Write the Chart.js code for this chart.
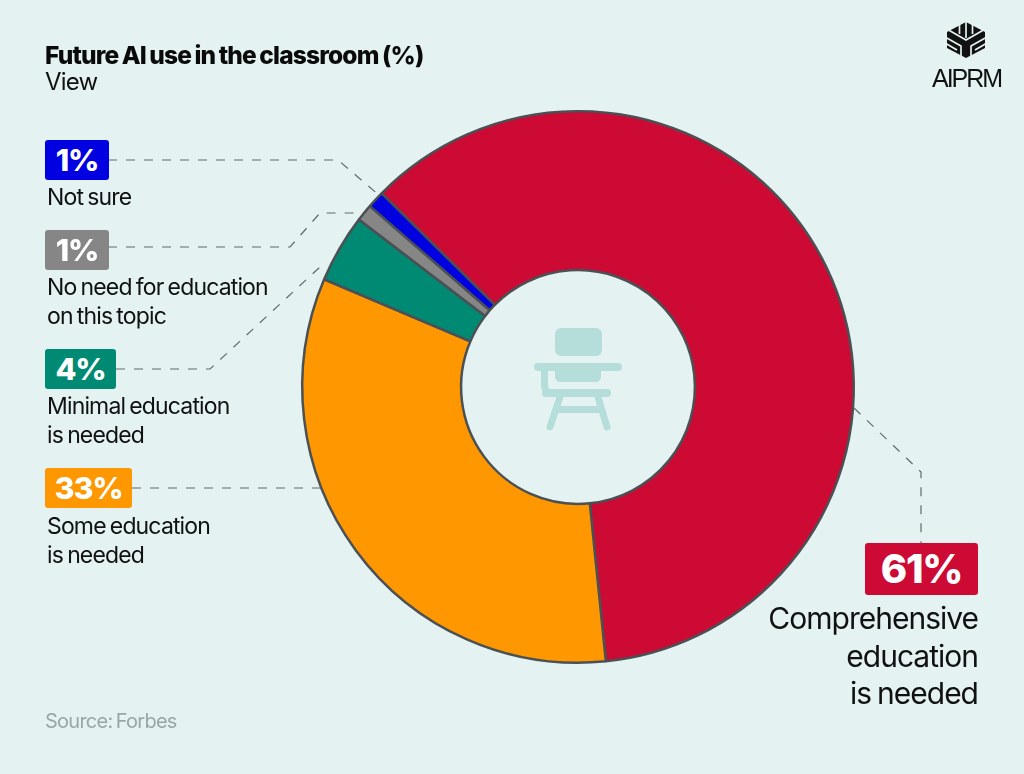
<!DOCTYPE html>
<html><head><meta charset="utf-8">
<script src="https://cdn.jsdelivr.net/npm/chart.js@4"></script>
<style>
html,body{margin:0;padding:0;background:#e4f3f1;}
#wrap{position:relative;width:1024px;height:774px;overflow:hidden;background:#e4f3f1;font-family:Inter,"Liberation Sans",sans-serif;color:#111;}
#c{position:absolute;left:0;top:0;width:1024px;height:774px;}
svg{position:absolute;left:0;top:0;}
.t{position:absolute;white-space:pre;}
.title{left:45px;top:40px;font-size:24.5px;font-weight:800;letter-spacing:-.82px;word-spacing:-1.2px;line-height:30px;color:#0a0a0a;}
.sub{left:45px;top:67px;font-size:24px;letter-spacing:-.8px;line-height:30px;}
.source{left:45px;top:708px;font-size:20px;letter-spacing:-.75px;word-spacing:-1.5px;color:#9aa6a6;line-height:26px;}
.badge{position:absolute;border-radius:3px;color:#fff;font-weight:800;display:flex;align-items:center;justify-content:center;font-size:30.5px;letter-spacing:-1.2px;height:40px;left:45px;padding-bottom:2px;box-sizing:border-box;}
.lab{left:47px;font-size:23px;letter-spacing:-.85px;word-spacing:-1.5px;line-height:28.5px;}
.big{right:46px;text-align:right;top:600px;font-size:30px;letter-spacing:-1px;word-spacing:-1.5px;line-height:37.5px;}
.logo{left:932px;top:63px;font-size:25px;letter-spacing:-2px;line-height:30px;font-family:"Liberation Sans",sans-serif;}
</style></head><body>
<div id="wrap">
<canvas id="c" width="1024" height="774"></canvas>
<svg width="1024" height="774" fill="none">
 <g stroke="#5f6b6b" stroke-width="1.2" stroke-dasharray="9 9">
  <path d="M108 160H338L380 196"/>
  <path d="M108 247H290L320 213H363"/>
  <path d="M116 369H210L320 267H326"/>
  <path d="M132 488H322"/>
  <path d="M854 408L921 472V545"/>
 </g>
 <g fill="#b5dedb" stroke="none">
  <rect x="555" y="328" width="47" height="28" rx="6"/>
  <rect x="534" y="363" width="88" height="8" rx="4"/>
  <path d="M555 371H601V376Q601 382 595 382H561Q555 382 555 376Z"/>
  <rect x="542" y="389" width="69" height="8" rx="4"/>
  <rect x="557" y="406" width="45" height="7"/>
 </g>
 <g stroke="#b5dedb" stroke-linecap="round">
  <path d="M544.500 371V385Q544.500 393 552 393" stroke-width="7"/>
  <path d="M560 397L550 427" stroke-width="7"/>
  <path d="M598 397L607 427" stroke-width="7"/>
 </g>
 <path d="M966 22L985 32V48L966 58L947 48V32Z" fill="#111"/>
 <g stroke="#e4f3f1" stroke-width="1.700">
  <path d="M959.500 20V34M966 20V38M972.500 20V34"/>
  <path d="M945 28L966 40L987 28"/>
  <path d="M945 37L961 46V60M987 37L971 46V60"/>
  <path d="M945 43L957 50M987 43L975 50"/>
 </g>
</svg>
<div class="t title" id="title"></div>
<div class="t sub" id="sub"></div>
<div class="t source" id="source"></div>
<div class="t logo" id="logo"></div>
<div class="badge" id="b4" style="top:140px;width:64px"></div>
<div class="t lab" id="l4" style="top:183px"></div>
<div class="badge" id="b3" style="top:230px;width:64px"></div>
<div class="t lab" id="l3" style="top:273px"></div>
<div class="badge" id="b2" style="top:349px;width:71px"></div>
<div class="t lab" id="l2" style="top:392px"></div>
<div class="badge" id="b1" style="top:468px;width:87px"></div>
<div class="t lab" id="l1" style="top:512px"></div>
<div class="badge" id="b0" style="left:865px;top:543px;width:113px;height:52px;font-size:40px"></div>
<div class="t big" id="l0"></div>
</div>
<script>
const titleText = "Future AI use in the classroom (%)";
const subtitleText = "View";
const sourceText = "Source: Forbes";
const logoText = "AIPRM";
const categories = ["Comprehensive\neducation\nis needed","Some education\nis needed","Minimal education\nis needed","No need for education\non this topic","Not sure"];
const values = [61,33,4,1,1];
const colors = ["#cc0a34","#ff9800","#008a74","#868686","#0000e0"];

document.getElementById('title').textContent = titleText;
document.getElementById('sub').textContent = subtitleText;
document.getElementById('source').textContent = sourceText;
document.getElementById('logo').textContent = logoText;
categories.forEach((c,i)=>{
  const b=document.getElementById('b'+i);
  b.textContent=values[i]+'%';
  b.style.background=colors[i];
  document.getElementById('l'+i).textContent=c;
});
new Chart(document.getElementById('c'),{
  type:'doughnut',
  data:{labels:categories,datasets:[{data:values,backgroundColor:colors,borderColor:'#4b5054',borderWidth:2.5,borderAlign:'center',hoverOffset:0}]},
  options:{
    responsive:false,animation:false,devicePixelRatio:1,
    rotation:-45.4,cutout:'42.400%',
    layout:{padding:{left:301,right:169,top:110,bottom:110}},
    plugins:{legend:{display:false},tooltip:{enabled:false},title:{display:false}}
  }
});
</script>
</body></html>
